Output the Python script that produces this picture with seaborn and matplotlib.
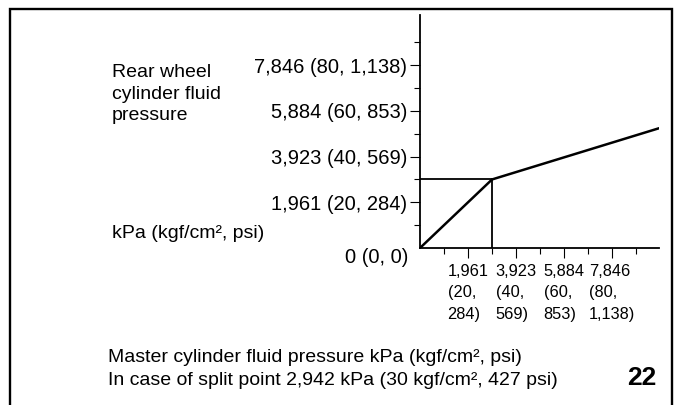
import matplotlib
matplotlib.use("Agg")
import matplotlib.pyplot as plt
from matplotlib.patches import Rectangle
import numpy as np
import pandas as pd
import seaborn as sns

# ---- data (kPa) ----
master_kpa = [0, 2942, 9760]
rear_kpa = [0, 2942, 5140]
split_kpa = 2942
major_ticks_kpa = [1961, 3923, 5884, 7846]
minor_ticks_kpa = [981, 2942, 4903, 6865, 8826]
y_tick_labels = ["1,961 (20, 284)", "3,923 (40, 569)", "5,884 (60, 853)", "7,846 (80, 1,138)"]
x_tick_labels = ["1,961\n(20,\n284)", "3,923\n(40,\n569)", "5,884\n(60,\n853)", "7,846\n(80,\n1,138)"]
y_title_lines = ["Rear wheel", "cylinder fluid", "pressure"]
y_unit = "kPa (kgf/cm², psi)"
origin_label = "0 (0, 0)"
bottom_lines = ["Master cylinder fluid pressure kPa (kgf/cm², psi)",
                "In case of split point 2,942 kPa (30 kgf/cm², 427 psi)"]
fig_number = "22"

sns.set_style("ticks")
REG = ["Liberation Sans", "DejaVu Sans"]
plt.rcParams["font.family"] = REG
plt.rcParams["text.color"] = "black"
plt.rcParams["xtick.color"] = "black"
plt.rcParams["ytick.color"] = "black"
plt.rcParams["xtick.labelcolor"] = "black"
plt.rcParams["ytick.labelcolor"] = "black"

W, H = 679, 405
fig = plt.figure(figsize=(W / 100, H / 100), dpi=100)
fig.patch.set_facecolor("white")

def fx(px):
    return px / W

def fy(py):
    return 1 - py / H

ax = fig.add_axes([fx(420), fy(248), (659 - 420) / W, (248 - 15) / H])
ax.set_facecolor("white")

df = pd.DataFrame({"master": master_kpa, "rear": rear_kpa})
sns.lineplot(data=df, x="master", y="rear", ax=ax, color="black", lw=1.8,
             sort=False, estimator=None)
guide_h = pd.DataFrame({"x": [0, split_kpa], "y": [split_kpa, split_kpa]})
guide_v = pd.DataFrame({"x": [split_kpa, split_kpa], "y": [0, split_kpa]})
sns.lineplot(data=guide_h, x="x", y="y", ax=ax, color="black", lw=1.3, sort=False, estimator=None)
sns.lineplot(data=guide_v, x="x", y="y", ax=ax, color="black", lw=1.3, sort=False, estimator=None)

ax.set_xlim(0, 9760)
ax.set_ylim(0, 10000)
ax.set_xlabel("")
ax.set_ylabel("")
for s in ["top", "right"]:
    ax.spines[s].set_visible(False)
for s in ["left", "bottom"]:
    ax.spines[s].set_linewidth(1.3)
    ax.spines[s].set_color("black")

ax.set_xticks(major_ticks_kpa)
ax.set_xticks(minor_ticks_kpa, minor=True)
ax.set_yticks(major_ticks_kpa)
ax.set_yticks(minor_ticks_kpa, minor=True)
ax.set_xticklabels(x_tick_labels, fontsize=11.8,
                   multialignment="left", linespacing=1.52)
ax.set_yticklabels(y_tick_labels, fontsize=14.5)
ax.tick_params(which="major", length=7.2, width=0.8, color="black", labelcolor="black")
ax.tick_params(which="minor", length=4.3, width=0.8, color="black")
ax.tick_params(axis="x", which="major", pad=4.5)
ax.tick_params(axis="y", which="major", pad=2)

# left-side titles
for txt, base in zip(y_title_lines, [77, 99, 120]):
    fig.text(fx(112), fy(base), txt, ha="left", va="baseline", fontsize=14, color="black")
fig.text(fx(112), fy(238), y_unit, ha="left", va="baseline", fontsize=14, color="black")
fig.text(fx(408), fy(263), origin_label, ha="right", va="baseline", fontsize=14.5, color="black")

# bottom caption
for txt, base in zip(bottom_lines, [362, 385]):
    fig.text(fx(108), fy(base), txt, ha="left", va="baseline", fontsize=14, color="black")
fig.text(fx(656), fy(385), fig_number, ha="right", va="baseline", fontsize=19,
         fontweight="bold", color="black")

# outer frame (open at bottom)
fig.patches.append(Rectangle((fx(10), -0.1), (672 - 10) / W, fy(9) + 0.1,
                             transform=fig.transFigure, fill=False,
                             lw=1.7, ec="black"))

fig.savefig("out.png", dpi=100, facecolor="white")
